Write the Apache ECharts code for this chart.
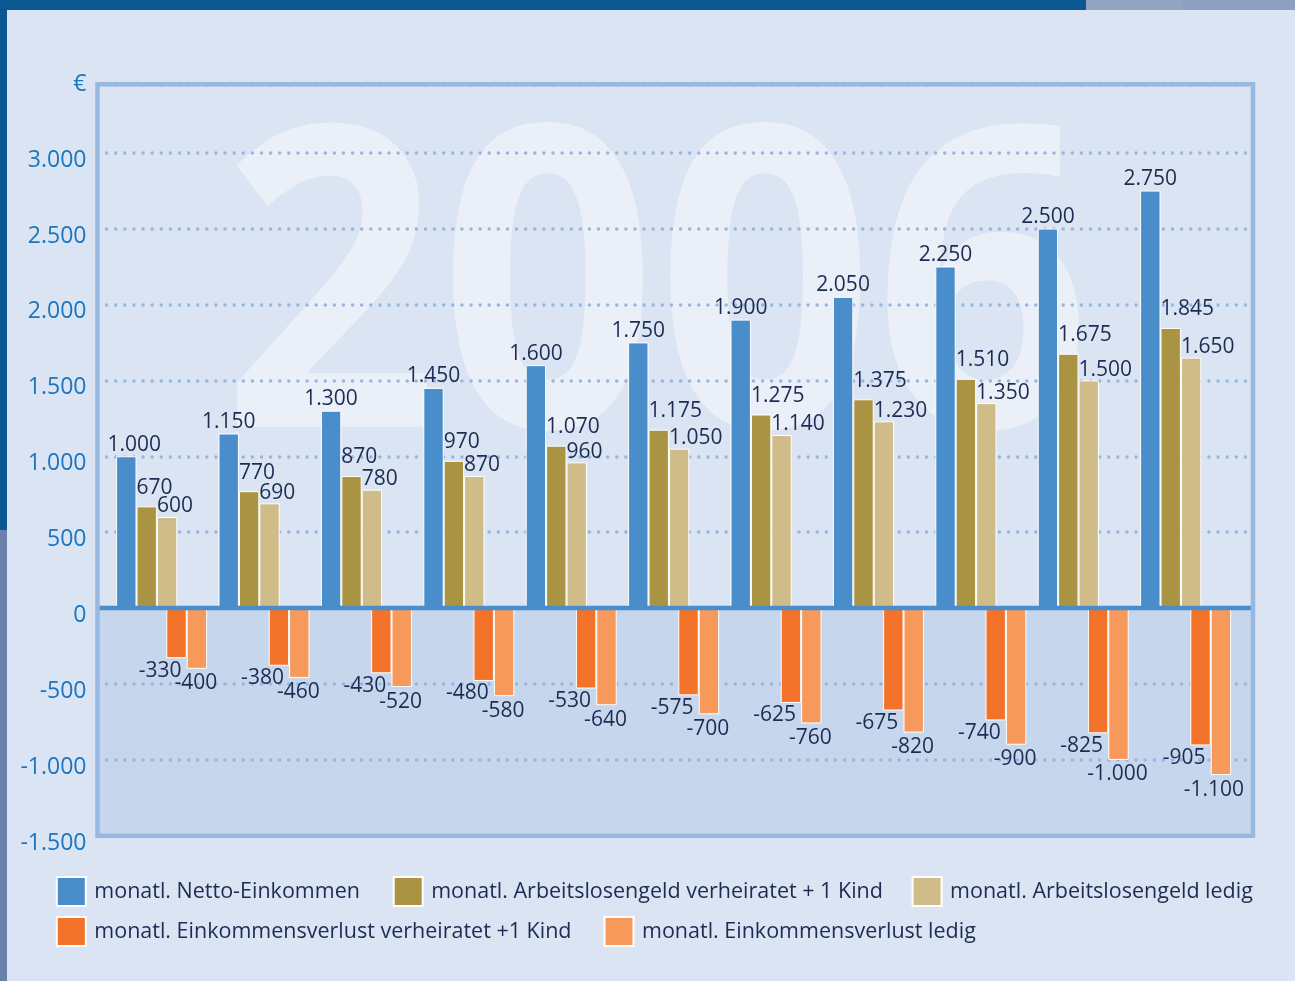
<!DOCTYPE html>
<html>
<head>
<meta charset="utf-8">
<script src="https://cdn.jsdelivr.net/npm/echarts@6/dist/echarts.min.js"></script>
<style>
  html, body { margin: 0; padding: 0; background: #dae4f2; }
  #chart { width: 1295px; height: 981px; }
</style>
</head>
<body>
<div id="chart"></div>
<script>
// ---- data ----
const yearLabel = '2006';
const seriesNames = [
  'monatl. Netto-Einkommen',
  'monatl. Arbeitslosengeld verheiratet + 1 Kind',
  'monatl. Arbeitslosengeld ledig',
  'monatl. Einkommensverlust verheiratet +1 Kind',
  'monatl. Einkommensverlust ledig'
];
const nettoEinkommen   = [1000, 1150, 1300, 1450, 1600, 1750, 1900, 2050, 2250, 2500, 2750];
const algVerheiratet   = [670, 770, 870, 970, 1070, 1175, 1275, 1375, 1510, 1675, 1845];
const algLedig         = [600, 690, 780, 870, 960, 1050, 1140, 1230, 1350, 1500, 1650];
const verlustVerh      = [-330, -380, -430, -480, -530, -575, -625, -675, -740, -825, -905];
const verlustLedig     = [-400, -460, -520, -580, -640, -700, -760, -820, -900, -1000, -1100];
const yTickValues      = [-1500, -1000, -500, 0, 500, 1000, 1500, 2000, 2500, 3000];
const yUnitLabel       = '€';

// ---- styling ----
const FONT = "'Open Sans', 'Noto Sans', sans-serif";
const NAVY = '#1d2c52';
const AXIS_BLUE = '#1a76c0';
const COLORS = ['#498dcb', '#aa9443', '#d0bc89', '#f27329', '#f7995b'];
const Y_MIN = -1500, Y_MAX = 3450;

function fmt(v) {
  const s = String(Math.abs(v)).replace(/\B(?=(\d{3})+(?!\d))/g, '.');
  return (v < 0 ? '-' : '') + s;
}
const toPairs = arr => arr.map((v, i) => [i, v]);

const barBase = {
  type: 'bar',
  barWidth: 20.4,
  barGap: '0%',
  z: 2,
  itemStyle: { borderColor: '#ffffff', borderWidth: 1 },
  label: {
    show: true, fontFamily: FONT, fontSize: 21, color: NAVY,
    formatter: p => fmt(p.value[1])
  }
};

function bar(name, idx, data, axisIndex, labelOpt, extra) {
  return Object.assign({}, barBase, {
    name: name,
    xAxisIndex: axisIndex,
    yAxisIndex: 0,
    data: data,
    itemStyle: Object.assign({}, barBase.itemStyle, { color: COLORS[idx] }),
    label: Object.assign({}, barBase.label, labelOpt)
  }, extra || {});
}

const nettoData = toPairs(nettoEinkommen).map((d, i) =>
  i === 0 ? { value: d, label: { offset: [8, 0] } } : d);
const ledigLossData = toPairs(verlustLedig).map((d, i) =>
  i === verlustLedig.length - 1 ? { value: d, label: { offset: [-7, 0] } } : d);

const splitColors = yTickValues.map(v => v < 0 ? '#c6d6ec' : 'rgba(0,0,0,0)');

const chart = echarts.init(document.getElementById('chart'), null, { renderer: 'canvas' });
chart.setOption({
  animation: false,
  backgroundColor: '#dae4f2',
  textStyle: { fontFamily: FONT },
  graphic: [
    { type: 'rect', z: 0, silent: true, shape: { x: 0, y: 0, width: 1086, height: 10 }, style: { fill: '#0b5790' } },
    { type: 'rect', z: 0, silent: true, shape: { x: 1086, y: 0, width: 96, height: 10 }, style: { fill: '#91a5c1' } },
    { type: 'rect', z: 0, silent: true, shape: { x: 1182, y: 0, width: 113, height: 10 }, style: { fill: '#8d9fc3' } },
    { type: 'rect', z: 0, silent: true, shape: { x: 0, y: 0, width: 7, height: 530 }, style: { fill: '#0b5790' } },
    { type: 'rect', z: 0, silent: true, shape: { x: 0, y: 530, width: 7, height: 451 }, style: { fill: '#6b80ab' } },
    {
      type: 'text', z: 0, silent: true,
      x: 222, y: 307, scaleX: 0.905, scaleY: 1,
      style: {
        text: yearLabel, x: 0, y: 0,
        font: "bold 420px 'Open Sans', sans-serif",
        fill: 'rgba(255,255,255,0.45)',
        textAlign: 'left', textVerticalAlign: 'middle',
        align: 'left', verticalAlign: 'middle'
      }
    }
  ],
  grid: {
    left: 97.5, right: 42, top: 84.3, bottom: 145.2,
    show: true, z: 6,
    backgroundColor: 'rgba(0,0,0,0)',
    borderColor: '#97b8e1', borderWidth: 4.5
  },
  legend: [
    { data: [seriesNames[0]], left: 55.8, top: 876 },
    { data: [seriesNames[1]], left: 392.7, top: 876 },
    { data: [seriesNames[2]], left: 911.6, top: 876 },
    { data: [seriesNames[3]], left: 55.8, top: 916 },
    { data: [seriesNames[4]], left: 603.5, top: 916 }
  ].map(l => Object.assign(l, {
    icon: 'rect', itemWidth: 29, itemHeight: 29, padding: 0, selectedMode: false,
    textStyle: { fontFamily: FONT, fontSize: 21.5, color: NAVY, padding: [0, 0, 0, 3.5] }
  })),
  xAxis: [
    { type: 'value', min: -0.4805, max: 10.8035, show: false },
    { type: 'value', min: -0.8711, max: 10.4129, show: false }
  ],
  yAxis: [
    {
      type: 'value', min: Y_MIN, max: Y_MAX, interval: 500, z: 1, position: 'left',
      axisLine: { show: false }, axisTick: { show: false },
      axisLabel: {
        fontFamily: FONT, fontSize: 23, color: AXIS_BLUE, margin: 11,
        verticalAlign: 'top', lineHeight: 15,
        formatter: v => (v === Y_MAX ? '' : fmt(v))
      },
      splitLine: {
        show: true,
        lineStyle: { color: '#94b6e0', width: 3.5, type: [0.01, 9.1], cap: 'round' }
      },
      splitArea: { show: true, areaStyle: { color: splitColors } }
    },
    {
      type: 'value', min: Y_MIN, max: Y_MAX, interval: 500, z: 1, position: 'left', offset: 0,
      axisLine: { show: false }, axisTick: { show: false },
      splitLine: { show: false }, splitArea: { show: false },
      axisLabel: {
        fontFamily: FONT, fontSize: 23, color: AXIS_BLUE, margin: 11,
        verticalAlign: 'middle',
        formatter: v => (v === Y_MAX ? yUnitLabel : '')
      }
    }
  ],
  series: [
    bar(seriesNames[0], 0, nettoData, 0, { position: 'top', distance: 1 }, {
      markLine: {
        silent: true, symbol: ['none', 'none'], z: 5,
        label: { show: false },
        lineStyle: { color: '#498dcb', width: 4.4, type: 'solid' },
        data: [{ yAxis: 0 }]
      }
    }),
    bar(seriesNames[1], 1, toPairs(algVerheiratet), 0, { position: 'top', distance: 8, align: 'left', offset: [-10.2, 0] }),
    bar(seriesNames[2], 2, toPairs(algLedig), 0, { position: 'top', distance: 0, align: 'left', offset: [-10.2, 0] }),
    bar(seriesNames[3], 3, toPairs(verlustVerh), 1, { position: 'bottom', distance: 2, align: 'right', offset: [5, 0] }),
    bar(seriesNames[4], 4, ledigLossData, 1, { position: 'bottom', distance: 4, offset: [-1, 0] })
  ]
});
</script>
</body>
</html>
